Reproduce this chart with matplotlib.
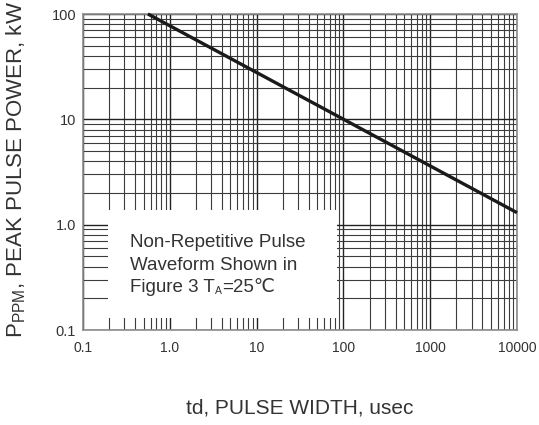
import matplotlib
matplotlib.use("Agg")
import matplotlib.pyplot as plt
from matplotlib.ticker import FixedLocator, NullFormatter, LogLocator
from matplotlib.patches import Rectangle

plt.rcParams['font.family'] = ['Liberation Sans', 'DejaVu Sans']
plt.rcParams['mathtext.fontset'] = 'custom'
plt.rcParams['mathtext.rm'] = 'Liberation Sans'
plt.rcParams['mathtext.it'] = 'Liberation Sans'
plt.rcParams['mathtext.bf'] = 'Liberation Sans'

# Data
pulse_width_us = [0.56, 10000]
peak_power_kw = [100, 1.3]

x_ticks = [0.1, 1, 10, 100, 1000, 10000]
x_tick_labels = ['0.1', '1.0', '10', '100', '1000', '10000']
y_ticks = [0.1, 1, 10, 100]
y_tick_labels = ['0.1', '1.0', '10', '100']

text_color = '#333333'
W, H = 539, 425
fig = plt.figure(figsize=(W / 100, H / 100), dpi=100)
ax = fig.add_axes([83 / W, 1 - 330 / H, (517 - 83) / W, (330 - 14) / H])

ax.set_xscale('log')
ax.set_yscale('log')
ax.set_xlim(0.1, 10000)
ax.set_ylim(0.1, 100)

ax.xaxis.set_major_locator(FixedLocator(x_ticks))
ax.yaxis.set_major_locator(FixedLocator(y_ticks))
ax.set_xticklabels(x_tick_labels)
ax.set_yticklabels(y_tick_labels)
ax.xaxis.set_minor_locator(LogLocator(base=10, subs=range(2, 10), numticks=20))
ax.yaxis.set_minor_locator(LogLocator(base=10, subs=range(2, 10), numticks=20))
ax.xaxis.set_minor_formatter(NullFormatter())
ax.yaxis.set_minor_formatter(NullFormatter())

ax.tick_params(which='both', length=0)
ax.tick_params(axis='x', pad=8, labelsize=10, labelcolor=text_color)
ax.tick_params(axis='y', pad=5, labelsize=10.5, labelcolor=text_color)

ax.grid(which='major', color='#222222', linewidth=1.0, zorder=1)
ax.grid(which='minor', color='#3c3c3c', linewidth=0.8, zorder=1)
ax.set_axisbelow(True)

for s in ax.spines.values():
    s.set_color('#8c8c8c')
    s.set_linewidth(1.2)

# white text box masking the grid
box = Rectangle((0.058, 0.038), 0.585 - 0.058, 0.38 - 0.038, transform=ax.transAxes,
                facecolor='white', edgecolor='none', zorder=1.5)
ax.add_patch(box)

ax.plot(pulse_width_us, peak_power_kw, color='#1a1a1a', linewidth=2.4,
        solid_capstyle='butt', zorder=3, clip_on=False)

fs_box = 13.5
tx = (130 - 83) / 434
ax.text(tx, (330 - 247) / 316, 'Non-Repetitive Pulse', transform=ax.transAxes,
        fontsize=fs_box, color=text_color, va='baseline', ha='left', zorder=4)
ax.text(tx, (330 - 269.5) / 316, 'Waveform Shown in', transform=ax.transAxes,
        fontsize=fs_box, color=text_color, va='baseline', ha='left', zorder=4)
t1 = ax.text(tx, (330 - 292) / 316, 'Figure 3 T', transform=ax.transAxes,
             fontsize=fs_box, color=text_color, va='baseline', ha='left', zorder=4)
t2 = ax.annotate('A', xy=(1, 0), xycoords=(t1, t1), xytext=(0.3, 0), textcoords='offset points',
                 fontsize=7.5, color=text_color, va='bottom', ha='left', zorder=4)
t3 = ax.annotate('=25℃', xy=(1, 0), xycoords=(t2, t1), xytext=(0.3, 0), textcoords='offset points',
                 fontsize=fs_box, color=text_color, va='bottom', ha='left', zorder=4)

fig.text(300 / W, 1 - 408 / H, 'td, PULSE WIDTH, usec', ha='center', va='center',
         fontsize=15, color=text_color)
fig.text(16 / W, 1 - 170 / H, r'P$_{\mathregular{PPM}}$, PEAK PULSE POWER, kW',
         ha='center', va='center', rotation=90, fontsize=16, color=text_color)

fig.savefig('out.png', dpi=100)
